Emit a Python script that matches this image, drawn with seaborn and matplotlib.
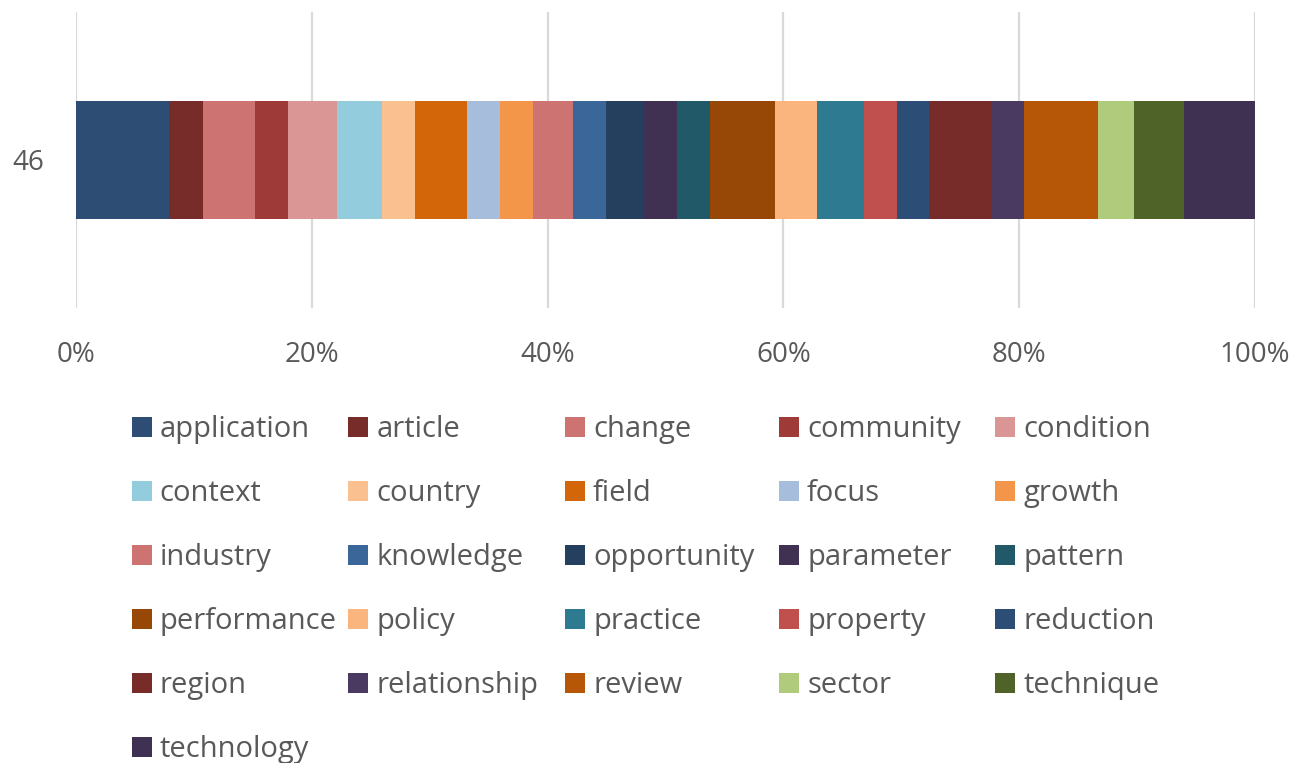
import matplotlib
matplotlib.use("Agg")
import matplotlib.pyplot as plt
import seaborn as sns
import numpy as np
import pandas as pd
from matplotlib.patches import Patch
from matplotlib.ticker import PercentFormatter

category = ["46"]
terms = ["application", "article", "change", "community", "condition",
         "context", "country", "field", "focus", "growth",
         "industry", "knowledge", "opportunity", "parameter", "pattern",
         "performance", "policy", "practice", "property", "reduction",
         "region", "relationship", "review", "sector", "technique",
         "technology"]
values = [7.86, 2.95, 4.33, 2.86, 4.16,
          3.76, 2.83, 4.39, 2.80, 2.86,
          3.31, 2.83, 3.25, 2.75, 2.80,
          5.57, 3.57, 3.92, 2.82, 2.68,
          5.41, 2.66, 6.32, 3.02, 4.25,
          6.03]
colors = ["#2E4D74", "#772C2A", "#CD7371", "#9E3B39", "#D99694",
          "#93CDDD", "#FAC090", "#D4660A", "#A6BDDB", "#F4964A",
          "#CD7371", "#3A6699", "#253F5F", "#403152", "#215968",
          "#974806", "#F9B57D", "#2E7A90", "#C0504D", "#2C4D75",
          "#772C2A", "#4A3A62", "#B65708", "#B0CB7C", "#4F6228",
          "#3F3151"]
xticks = [0, 20, 40, 60, 80, 100]

sns.set_theme(style="white")
plt.rcParams["font.family"] = ["Open Sans", "DejaVu Sans"]
txt = "#595959"
fs = 20
lfs = 21

vals = np.array(values, dtype=float)
pct = vals / vals.sum() * 100
cum = np.cumsum(pct)

fig = plt.figure(figsize=(13.04, 7.63), dpi=100)
W, H = 1304, 763
ax = fig.add_axes([76 / W, 1 - 308 / H, (1255 - 76) / W, (308 - 12) / H])

for i in range(len(terms) - 1, -1, -1):
    df = pd.DataFrame({"cat": category, "val": [cum[i]]})
    sns.barplot(data=df, x="val", y="cat", orient="h", color=colors[i],
                saturation=1, width=0.4, ax=ax, linewidth=0, zorder=3)

ax.set_xlim(0, 100)
ax.set_ylim(0.5, -0.5)
ax.set_xticks(xticks)
ax.xaxis.set_major_formatter(PercentFormatter(decimals=0))
ax.grid(axis="x", color="#D9D9D9", linewidth=1.6, zorder=0)
ax.grid(axis="y", visible=False)
ax.set_axisbelow(True)
for s in ax.spines.values():
    s.set_visible(False)
ax.set_xlabel("")
ax.set_ylabel("")
ax.tick_params(axis="x", length=0, pad=24, labelsize=fs, labelcolor=txt)
ax.tick_params(axis="y", length=0, pad=23, labelsize=fs, labelcolor=txt)

# legend: 5 columns, row-major order, one legend per column
col_x = [131.7, 348.3, 565.0, 779.0, 995.0]
fs_px = lfs * 100 / 72
for c in range(5):
    idx = list(range(c, len(terms), 5))
    handles = [Patch(facecolor=colors[k], edgecolor="none") for k in idx]
    labels = [terms[k] for k in idx]
    leg = fig.legend(handles, labels, loc="upper left",
                     bbox_to_anchor=(col_x[c] / W, 1 - 415 / H),
                     frameon=False, fontsize=lfs, labelcolor=txt,
                     handlelength=20 / fs_px, handleheight=20 / fs_px,
                     handletextpad=8 / fs_px, borderpad=0, borderaxespad=0,
                     labelspacing=1.2)

fig.savefig("out.png", dpi=100)
